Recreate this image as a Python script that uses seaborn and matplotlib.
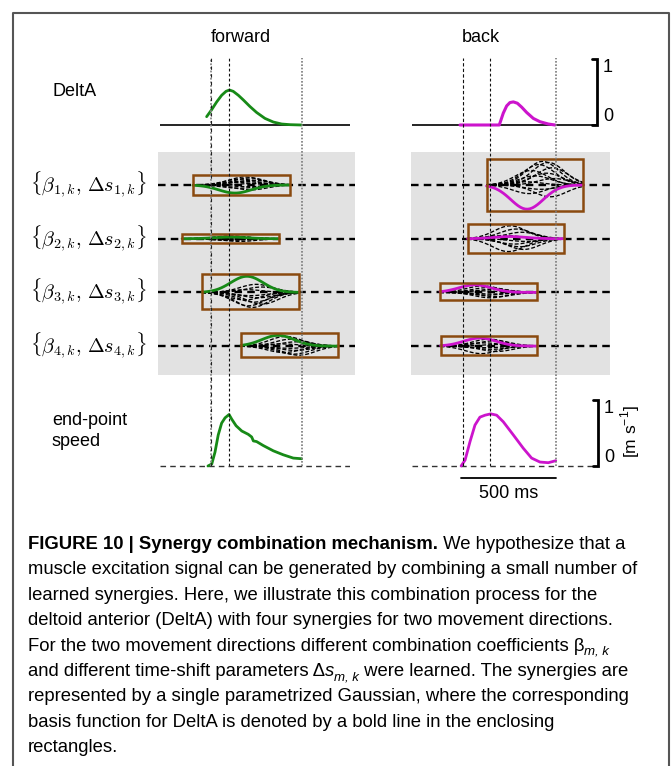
import numpy as np
import matplotlib
matplotlib.use("Agg")
import matplotlib.pyplot as plt
import seaborn as sns
from matplotlib.patches import Rectangle
from matplotlib.lines import Line2D
import matplotlib.transforms as mtransforms

sns.set_theme(style="white")
plt.rcParams['font.family'] = ['Liberation Sans', 'DejaVu Sans']
plt.rcParams['text.color'] = 'black'

# ---------------------------------------------------------------- data
directions = ["forward", "back"]
colors = {"forward": "#178a17", "back": "#cc14cc"}

# event times (ms from movement onset): onset, speed peak, movement end
events = {"forward": [0, 95, 480], "back": [0, 142, 490]}

# DeltA excitation (normalised)
deltA_fwd_t = [-23, 3, 30, 56, 79, 97, 117, 144, 170, 205, 240, 284, 328, 372, 416, 477]
deltA_fwd_v = [0.126, 0.23, 0.35, 0.45, 0.51, 0.53, 0.51, 0.45, 0.38, 0.28, 0.19, 0.10,
               0.045, 0.015, 0.005, 0.0]
deltA_back_t = [-16, 191, 212, 230, 247, 265, 286, 309, 335, 370, 405, 449, 484]
deltA_back_v = [0.0, 0.0, 0.18, 0.29, 0.34, 0.35, 0.33, 0.27, 0.19, 0.10, 0.05, 0.015, 0.0]

# end-point speed (m/s)
speed_fwd_t = [-16, 4, 21, 38, 56, 74, 95, 109, 132, 162, 196, 214, 223, 240, 275, 328,
               380, 433, 477]
speed_fwd_v = [0.0, 0.03, 0.21, 0.47, 0.65, 0.73, 0.78, 0.71, 0.61, 0.53, 0.48, 0.44,
               0.38, 0.37, 0.31, 0.23, 0.17, 0.12, 0.11]
speed_back_t = [-10, 11, 37, 63, 89, 116, 146, 177, 212, 265, 317, 361, 405, 449, 488]
speed_back_v = [0.0, 0.09, 0.37, 0.62, 0.74, 0.77, 0.79, 0.77, 0.67, 0.47, 0.27, 0.12,
                0.06, 0.05, 0.08]

# synergies: time-shift (box centre, ms), DeltA coefficient and its own shift,
# plus coefficients / shifts of the remaining muscles
syn_labels = [r"$\{\beta_{%d,k},\,\Delta s_{%d,k}\}$" % (m, m) for m in range(1, 5)]

syn_fwd_center = [160, 103, 208, 413]
syn_fwd_deltA_amp = [-0.15, 0.03, 0.30, 0.20]
syn_fwd_deltA_shift = [-34, 0, -19, -60]
syn_fwd_amp = [
    [0.15, 0.13, 0.11, 0.09, 0.07, 0.05, 0.03, -0.03, -0.06, -0.09],
    [0.05, 0.04, 0.03, 0.02, 0.01, -0.01, -0.02, -0.03, -0.05],
    [0.15, 0.10, 0.05, -0.06, -0.10, -0.14, -0.18, -0.22, -0.25, -0.28],
    [0.18, 0.13, 0.08, 0.04, -0.04, -0.08, -0.12, -0.15, -0.17],
]
syn_fwd_shift = [
    [20, 45, -5, 60, 10, -30, 80, 30, -10, 50],
    [0, 20, -20, 40, -40, 10, 30, -10, 50],
    [30, 60, -20, 0, 40, -30, 20, 60, -10, 10],
    [-20, 10, 40, -40, 0, 30, -30, 20, 50],
]

syn_back_center = [379, 279, 134, 137]
syn_back_deltA_amp = [-0.45, 0.04, 0.14, 0.15]
syn_back_deltA_shift = [-42, -32, -71, -48]
syn_back_amp = [
    [0.44, 0.42, 0.38, 0.32, 0.27, 0.22, 0.17, 0.12, 0.06, -0.08, -0.16, -0.22],
    [0.24, 0.18, 0.12, 0.06, -0.05, -0.10, -0.15, -0.20, -0.24],
    [0.12, 0.09, 0.06, 0.03, -0.03, -0.05, -0.08, -0.10],
    [0.13, 0.10, 0.06, 0.03, -0.03, -0.06, -0.10, -0.14],
]
syn_back_shift = [
    [40, 70, 20, 90, -20, 60, 0, 100, -50, 30, -30, 80],
    [-30, 0, 30, -60, 50, -10, 20, 40, -40],
    [-30, 0, 30, -50, 20, -10, 40, 10],
    [0, 30, -30, 50, -20, 10, 40, -40],
]

SYN_WIDTH = 510      # ms, temporal support of a synergy
SYN_SIGMA = 85       # ms, width of the parametrised Gaussian
BOX_PAD = 0.035

# caption: each line is a list of (text, style) runs
caption = [
    [("FIGURE 10 | Synergy combination mechanism.", "bold"), (" We hypothesize that a", "")],
    [("muscle excitation signal can be generated by combining a small number of", "")],
    [("learned synergies. Here, we illustrate this combination process for the", "")],
    [("deltoid anterior (DeltA) with four synergies for two movement directions.", "")],
    [("For the two movement directions different combination coefficients β", ""),
     ("m, k", "sub")],
    [("and different time-shift parameters Δ", ""), ("s", "italic"), ("m, k", "sub"),
     (" were learned. The synergies are", "")],
    [("represented by a single parametrized Gaussian, where the corresponding", "")],
    [("basis function for DeltA is denoted by a bold line in the enclosing", "")],
    [("rectangles.", "")],
]

# ---------------------------------------------------------------- layout
W, H = 671, 766
PX_PER_MS = 95 / 500
fig = plt.figure(figsize=(W / 100, H / 100), dpi=100)


def add_ax(left, top, right, bottom, onset, y0_px, px_per_unit):
    ax = fig.add_axes([left / W, 1 - bottom / H, (right - left) / W, (bottom - top) / H])
    ax.set_xlim((left - onset) / PX_PER_MS, (right - onset) / PX_PER_MS)
    ax.set_ylim((y0_px - bottom) / px_per_unit, (y0_px - top) / px_per_unit)
    ax.set_xticks([])
    ax.set_yticks([])
    for s in ax.spines.values():
        s.set_visible(False)
    return ax


cols = {
    "forward": dict(onset=211, l=160, r=350, gl=158, gr=355, title_x=241),
    "back": dict(onset=463, l=412, r=597, gl=411, gr=610, title_x=481),
}
ROW_PX = 53.7
ROW0_PX = 185

for d in directions:
    c = cols[d]
    col = colors[d]

    # ---- DeltA
    ax1 = add_ax(c["l"], 50, c["r"], 135, c["onset"], 125, 66)
    ax1.axhline(0, color="black", lw=1.2, zorder=1)
    if d == "forward":
        sns.lineplot(x=deltA_fwd_t, y=deltA_fwd_v, ax=ax1, color=col, lw=2, zorder=3)
    else:
        sns.lineplot(x=deltA_back_t, y=deltA_back_v, ax=ax1, color=col, lw=2.2, zorder=3)

    # ---- synergies
    ax2 = fig.add_axes([c["gl"] / W, 1 - 375 / H, (c["gr"] - c["gl"]) / W, (375 - 152) / H])
    ax2.set_facecolor("#e2e2e2")
    ax2.set_xlim((c["gl"] - c["onset"]) / PX_PER_MS, (c["gr"] - c["onset"]) / PX_PER_MS)
    ax2.set_ylim(3 + (375 - ROW0_PX - 3 * ROW_PX) / ROW_PX, -(ROW0_PX - 152) / ROW_PX)
    ax2.set_xticks([])
    ax2.set_yticks([])
    for s in ax2.spines.values():
        s.set_visible(False)

    if d == "forward":
        centers, d_amp, d_shift, amps, shifts = (syn_fwd_center, syn_fwd_deltA_amp,
                                                 syn_fwd_deltA_shift, syn_fwd_amp, syn_fwd_shift)
    else:
        centers, d_amp, d_shift, amps, shifts = (syn_back_center, syn_back_deltA_amp,
                                                 syn_back_deltA_shift, syn_back_amp, syn_back_shift)

    for row in range(4):
        ax2.axhline(row, color="black", lw=1.7, ls=(0, (3.2, 2.2)), zorder=1)
        cen = centers[row]
        t = np.linspace(cen - SYN_WIDTH / 2, cen + SYN_WIDTH / 2, 41)
        for a, sh in zip(amps[row], shifts[row]):
            g = np.exp(-0.5 * ((t - cen - sh) / SYN_SIGMA) ** 2)
            ax2.plot(t, row - a * g, color="black", lw=0.95, ls=(0, (3, 1.5)), zorder=2)
        g = np.exp(-0.5 * ((t - cen - d_shift[row]) / SYN_SIGMA) ** 2)
        sns.lineplot(x=t, y=row - d_amp[row] * g, ax=ax2, color=col, lw=2, zorder=3)
        all_a = list(amps[row]) + [d_amp[row]]
        top, bot = max(all_a) + BOX_PAD, min(all_a) - BOX_PAD
        ax2.add_patch(Rectangle((cen - SYN_WIDTH / 2, row - top), SYN_WIDTH, top - bot,
                                fill=False, edgecolor="#8a4a0f", lw=1.8, zorder=4))

    # ---- end-point speed
    ax3 = add_ax(c["l"], 392, c["r"] + (1 if d == "back" else 0), 500, c["onset"], 466, 66)
    ax3.axhline(0, color="#333333", lw=1.0, ls=(0, (4, 3)), zorder=1)
    if d == "forward":
        sns.lineplot(x=speed_fwd_t, y=speed_fwd_v, ax=ax3, color=col, lw=2, zorder=3)
    else:
        sns.lineplot(x=speed_back_t, y=speed_back_v, ax=ax3, color=col, lw=2, zorder=3)

    # ---- event markers spanning all rows
    ax4 = fig.add_axes([c["gl"] / W, 1 - 466 / H, (c["gr"] - c["gl"]) / W, (466 - 58) / H])
    ax4.set_xlim((c["gl"] - c["onset"]) / PX_PER_MS, (c["gr"] - c["onset"]) / PX_PER_MS)
    ax4.set_ylim(0, 1)
    ax4.set_facecolor("none")
    ax4.set_xticks([])
    ax4.set_yticks([])
    for s in ax4.spines.values():
        s.set_visible(False)
    e_on, e_pk, e_end = events[d]
    if d == "forward":
        ax4.axvline(e_on, color="#8a8a8a", lw=1.3, ls=(0, (1, 1)))
        ax4.axvline(e_on, color="#222222", lw=0.8, ls=(0, (3, 4)))
    else:
        ax4.axvline(e_on, color="#111111", lw=0.8, ls=(0, (3, 2)))
    ax4.axvline(e_pk, color="#111111", lw=0.8, ls=(0, (2.5, 2)))
    ax4.axvline(e_end, color="#7a7a7a", lw=1.2, ls=(0, (1, 1)))

    fig.text(c["title_x"] / W, 1 - 38 / H, d, ha="center", va="center", fontsize=13)

    if d == "back":
        # scale bars with 0/1 labels
        for ax, yr in ((ax1, (0, 1)), (ax3, (0, 1))):
            tr = mtransforms.blended_transform_factory(ax.transAxes, ax.transData)
            wpx = (c["r"] - c["l"])
            dx = 5 / wpx
            ax.add_line(Line2D([1 - dx, 1, 1, 1 - dx], [yr[1], yr[1], yr[0], yr[0]],
                               transform=tr, color="black", lw=2, clip_on=False,
                               solid_joinstyle="miter"))
            ax.text(1 + 11 / wpx, yr[1], "1", transform=tr, ha="center", va="top",
                    fontsize=13, clip_on=False)
            ax.text(1 + 11 / wpx, yr[0], "0", transform=tr, ha="center", va="bottom",
                    fontsize=13, clip_on=False)
        # 500 ms time bar
        ax3.add_line(Line2D([e_end - 500, e_end], [-0.18, -0.18], color="black", lw=1.3,
                            clip_on=False))
        ax3.text(e_end - 250, -0.41, "500 ms", ha="center", va="center", fontsize=13,
                 clip_on=False)

# row labels
fig.text(52 / W, 1 - 92 / H, "DeltA", ha="left", va="center", fontsize=13)
fig.text(52 / W, 1 - 431 / H, "end-point\nspeed", ha="left", va="center", fontsize=13,
         linespacing=1.35)
for m, lab in enumerate(syn_labels):
    fig.text(147 / W, 1 - (ROW0_PX + m * ROW_PX) / H, lab, ha="right", va="center",
             fontsize=14.5, math_fontfamily="cm")
fig.text(630 / W, 1 - 432 / H, r"[m s$^{\mathregular{-1}}$]", rotation=90, ha="center",
         va="center", fontsize=12.5)

# frame
fig.add_artist(Line2D([13 / W, 13 / W, 669 / W, 669 / W], [0, 1 - 13 / H, 1 - 13 / H, 0],
                      transform=fig.transFigure, color="#555555", lw=1.5))

# caption, laid out run by run
renderer = fig.canvas.get_renderer()
base0 = 549
step = 25.4
FS = 13.3
for i, runs in enumerate(caption):
    x = 28.0
    y = base0 + i * step
    for txt, style in runs:
        kw = dict(fontsize=FS, ha="left", va="baseline")
        yy = y
        if style == "bold":
            kw["fontweight"] = "bold"
        elif style == "italic":
            kw["fontstyle"] = "italic"
        elif style == "sub":
            kw["fontstyle"] = "italic"
            kw["fontsize"] = FS * 0.72
            yy = y + 4
        t = fig.text(x / W, 1 - yy / H, txt, **kw)
        x = t.get_window_extent(renderer=renderer).x1

fig.savefig("out.png", dpi=100)
